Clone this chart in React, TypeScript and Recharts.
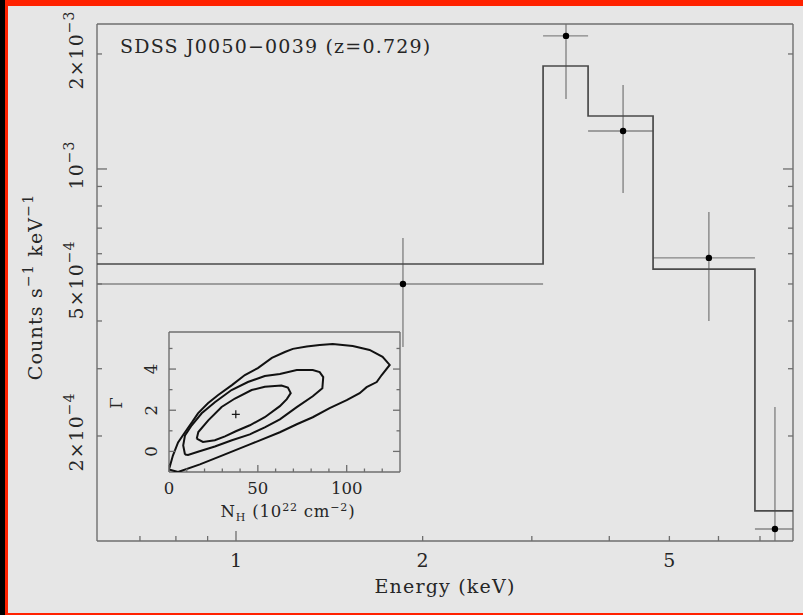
import React from 'react';
import { ComposedChart, ScatterChart, Scatter, XAxis, YAxis, ErrorBar } from 'recharts';

// spectral bins (keV) and the folded model in each bin
const binEdges = [0.5, 3.128, 3.697, 4.706, 6.87, 8.0];
const modelRate = [5.64e-4, 1.86e-3, 1.376e-3, 5.47e-4, 1.273e-4];

// measured rates, counts s^-1 keV^-1
const energy = [1.859, 3.406, 4.21, 5.79, 7.4];
const rate = [5.0e-4, 2.23e-3, 1.257e-3, 5.85e-4, 1.142e-4];
const rateLow = [3.42e-4, 1.525e-3, 8.65e-4, 4.0e-4, 9.0e-5];
const rateHigh = [6.6e-4, 2.9e-3, 1.66e-3, 7.72e-4, 2.38e-4];

const xDomain = [0.5968, 7.913];
const yDomain = [1.062e-4, 2.396e-3];
const xTicks = [0.7, 0.8, 0.9, 1, 2, 3, 4, 5, 6, 7];
const xMajor = [1];
const xLabeled = [1, 2, 5];
const yTicks = [2e-4, 3e-4, 4e-4, 5e-4, 6e-4, 7e-4, 8e-4, 9e-4, 1e-3, 2e-3];
const yMajor = [1e-3];
const yLabels = [
  { v: 2e-4, m: '2×10', e: '−4' },
  { v: 5e-4, m: '5×10', e: '−4' },
  { v: 1e-3, m: '10', e: '−3' },
  { v: 2e-3, m: '2×10', e: '−3' },
];

// N_H - Gamma confidence contours
const contourOuter = [
  [0, -0.88], [2.2, -0.2], [5.1, 0.44], [9.0, 0.93], [12.9, 1.41], [16.3, 1.85], [21.9, 2.34],
  [27.5, 2.73], [35.4, 3.22], [42.7, 3.71], [50.0, 4.05], [57.9, 4.54], [65.2, 4.83], [69.7, 4.98],
  [77.5, 5.1], [84.8, 5.17], [92.1, 5.22], [103.4, 5.12], [112.9, 4.93], [120.2, 4.59], [124.2, 4.2],
  [119.7, 3.71], [116.9, 3.37], [111.2, 3.12], [107.3, 2.83], [100.0, 2.49], [90.4, 2.1], [80.9, 1.66],
  [71.9, 1.32], [62.4, 0.93], [45.5, 0.34], [28.7, -0.24], [17.4, -0.63], [5.1, -1.0], [0, -0.88],
];
const contourMid = [
  [9.0, -0.15], [8.0, 0.29], [9.0, 0.78], [12.8, 1.27], [18.4, 1.85], [25.8, 2.39], [35.2, 2.98],
  [44.4, 3.37], [53.9, 3.66], [62.4, 3.76], [71.9, 3.95], [80.9, 3.95], [84.8, 3.85], [86.8, 3.61],
  [86.3, 3.07], [80.9, 2.68], [71.9, 2.15], [62.4, 1.56], [53.9, 1.17], [45.5, 0.83], [35.4, 0.54],
  [25.8, 0.24], [16.3, -0.02], [10.7, -0.17], [9.0, -0.15],
];
const contourInner = [
  [15.6, 0.62], [16.5, 0.94], [22.1, 1.51], [29.6, 2.16], [37.1, 2.57], [46.5, 2.98], [53.9, 3.14],
  [63.3, 3.2], [66.9, 3.1], [68.5, 2.83], [66.3, 2.54], [62.4, 2.2], [53.9, 1.66], [45.5, 1.27],
  [37.6, 0.98], [31.5, 0.73], [25.8, 0.54], [19.1, 0.46], [15.6, 0.62],
];
const bestFit = [37.6, 1.8];

const nhDomain = [0, 130];
const gammaDomain = [-1, 5.8];
const nhTicks = [0, 10, 20, 30, 40, 50, 60, 70, 80, 90, 100, 110, 120];
const nhMajor = [0, 50, 100];
const gammaTicks = [0, 1, 2, 3, 4, 5];
const gammaMajor = [0, 2, 4];

const FONT = '"DejaVu Serif", serif';
const FRAME = '#6e6e6e';
const BG = '#e6e6e6';
const INK = '#262626';

// error bars are cut at the plot frame, as the axes are
const points = energy.map((e, i) => {
  const lo = Math.max(binEdges[i], xDomain[0]);
  const hi = Math.min(binEdges[i + 1], xDomain[1]);
  const c = rate[i];
  const cLo = Math.max(rateLow[i], yDomain[0]);
  const cHi = Math.min(rateHigh[i], yDomain[1]);
  return { e, c, xErr: [e - lo, hi - e], yErr: [c - cLo, cHi - c] };
});
const modelPath = modelRate.flatMap((c, i) => [
  { e: binEdges[i], c },
  { e: binEdges[i + 1], c },
]);
const toXY = (list: number[][]) => list.map(([nh, g]) => ({ nh, g }));

const near = (list: number[], v: number) =>
  list.some((t) => Math.abs(t - v) <= Math.abs(t || 1) * 1e-6);

// inward tick marks; labels are drawn by the optional callback
function makeTick(
  side: 'bottom' | 'top' | 'left' | 'right',
  major: number[],
  majorLen: number,
  minorLen: number,
  label?: (x: number, y: number, v: number) => React.ReactNode,
) {
  return (props: any) => {
    const { x, y, payload } = props;
    const v = payload.value;
    const len = near(major, v) ? majorLen : minorLen;
    let x2 = x;
    let y2 = y;
    if (side === 'bottom') y2 = y - len;
    if (side === 'top') y2 = y + len;
    if (side === 'left') x2 = x + len;
    if (side === 'right') x2 = x - len;
    return (
      <g>
        <line x1={x} y1={y} x2={x2} y2={y2} stroke={FRAME} strokeWidth={1.3} />
        {label ? label(x, y, v) : null}
      </g>
    );
  };
}

const energyLabel = (x: number, y: number, v: number) =>
  near(xLabeled, v) ? (
    <text x={x} y={y + 26} textAnchor="middle" fontFamily={FONT} fontSize={19} fill={INK}>
      {v}
    </text>
  ) : null;

const rateLabel = (x: number, y: number, v: number) => {
  const lab = yLabels.find((l) => near([l.v], v));
  if (!lab) return null;
  const bx = x - 14;
  const by = y - 4;
  return (
    <text
      x={bx}
      y={by}
      transform={`rotate(-90, ${bx}, ${by})`}
      textAnchor="middle"
      fontFamily={FONT}
      fontSize={19}
      letterSpacing={1}
      fill={INK}
    >
      {lab.m}
      <tspan dy={-9} fontSize={14}>{lab.e}</tspan>
    </text>
  );
};

const nhLabel = (x: number, y: number, v: number) =>
  near(nhMajor, v) ? (
    <text x={x} y={y + 22} textAnchor="middle" fontFamily={FONT} fontSize={16.5} fill={INK}>
      {v}
    </text>
  ) : null;

const gammaLabel = (x: number, y: number, v: number) => {
  if (!near(gammaMajor, v)) return null;
  const bx = x - 12;
  return (
    <text
      x={bx}
      y={y}
      transform={`rotate(-90, ${bx}, ${y})`}
      textAnchor="middle"
      fontFamily={FONT}
      fontSize={16.5}
      fill={INK}
    >
      {v}
    </text>
  );
};

const dot = (p: any) => <circle cx={p.cx} cy={p.cy} r={3.2} fill="#000" />;
const none = () => <g />;
const cross = (p: any) => (
  <g stroke="#111" strokeWidth={1.2}>
    <line x1={p.cx - 4} y1={p.cy} x2={p.cx + 4} y2={p.cy} />
    <line x1={p.cx} y1={p.cy - 4} x2={p.cx} y2={p.cy + 4} />
  </g>
);

export default function App() {
  const axisLine = { stroke: FRAME, strokeWidth: 1.4 };
  return (
    <div style={{ position: 'absolute', left: 0, top: 0, width: 803, height: 615, background: '#000' }}>
      <div
        style={{
          position: 'absolute',
          left: 5,
          top: 0,
          right: 0,
          bottom: 0,
          background: BG,
          borderLeft: '3px solid #ff2200',
          borderTop: '6px solid #ff2200',
          borderBottom: '2px solid #ff2200',
        }}
      />

      <div style={{ position: 'absolute', left: 0, top: 0 }}>
        <ComposedChart width={803} height={615} margin={{ top: 23, right: 9, bottom: 14, left: 37 }}>
          <XAxis
            xAxisId="bottom"
            dataKey="e"
            type="number"
            scale="log"
            domain={xDomain}
            allowDataOverflow
            ticks={xTicks}
            interval={0}
            height={60}
            tickSize={0}
            tickMargin={0}
            tickLine={false}
            axisLine={axisLine}
            tick={makeTick('bottom', xMajor, 10, 5, energyLabel)}
          />
          <XAxis
            xAxisId="top"
            orientation="top"
            type="number"
            scale="log"
            domain={xDomain}
            allowDataOverflow
            ticks={xTicks}
            interval={0}
            height={1}
            tickSize={0}
            tickMargin={0}
            tickLine={false}
            axisLine={axisLine}
            tick={makeTick('top', xMajor, 10, 5)}
          />
          <YAxis
            yAxisId="left"
            dataKey="c"
            type="number"
            scale="log"
            domain={yDomain}
            allowDataOverflow
            ticks={yTicks}
            interval={0}
            width={60}
            tickSize={0}
            tickMargin={0}
            tickLine={false}
            axisLine={axisLine}
            tick={makeTick('left', yMajor, 10, 5, rateLabel)}
          />
          <YAxis
            yAxisId="right"
            orientation="right"
            type="number"
            scale="log"
            domain={yDomain}
            allowDataOverflow
            ticks={yTicks}
            interval={0}
            width={1}
            tickSize={0}
            tickMargin={0}
            tickLine={false}
            axisLine={axisLine}
            tick={makeTick('right', yMajor, 10, 5)}
          />
          <Scatter
            xAxisId="bottom"
            yAxisId="left"
            data={modelPath}
            dataKey="c"
            line={{ stroke: '#4a4a4a', strokeWidth: 1.7 }}
            lineType="joint"
            shape={none}
            isAnimationActive={false}
          />
          <Scatter
            xAxisId="bottom"
            yAxisId="left"
            data={points}
            dataKey="c"
            shape={dot}
            isAnimationActive={false}
          >
            <ErrorBar dataKey="xErr" direction="x" width={0} stroke="#858585" strokeWidth={1.4} />
            <ErrorBar dataKey="yErr" direction="y" width={0} stroke="#858585" strokeWidth={1.4} />
          </Scatter>
        </ComposedChart>
      </div>

      <div style={{ position: 'absolute', left: 100, top: 320 }}>
        <ScatterChart width={310} height={210} margin={{ top: 11, right: 9, bottom: 18, left: 29 }}>
          <XAxis
            dataKey="nh"
            type="number"
            domain={nhDomain}
            allowDataOverflow
            ticks={nhTicks}
            interval={0}
            height={40}
            tickSize={0}
            tickMargin={0}
            tickLine={false}
            axisLine={axisLine}
            tick={makeTick('bottom', nhMajor, 7, 3.5, nhLabel)}
          />
          <XAxis
            xAxisId="top"
            orientation="top"
            type="number"
            domain={nhDomain}
            allowDataOverflow
            ticks={nhTicks}
            interval={0}
            height={1}
            tickSize={0}
            tickMargin={0}
            tickLine={false}
            axisLine={axisLine}
            tick={makeTick('top', nhMajor, 7, 3.5)}
          />
          <YAxis
            dataKey="g"
            type="number"
            domain={gammaDomain}
            allowDataOverflow
            ticks={gammaTicks}
            interval={0}
            width={40}
            tickSize={0}
            tickMargin={0}
            tickLine={false}
            axisLine={axisLine}
            tick={makeTick('left', gammaMajor, 7, 3.5, gammaLabel)}
          />
          <YAxis
            yAxisId="right"
            orientation="right"
            type="number"
            domain={gammaDomain}
            allowDataOverflow
            ticks={gammaTicks}
            interval={0}
            width={1}
            tickSize={0}
            tickMargin={0}
            tickLine={false}
            axisLine={axisLine}
            tick={makeTick('right', gammaMajor, 7, 3.5)}
          />
          {[contourOuter, contourMid, contourInner].map((c, i) => (
            <Scatter
              key={i}
              data={toXY(c)}
              line={{ stroke: '#111', strokeWidth: 2 }}
              lineType="joint"
              shape={none}
              isAnimationActive={false}
            />
          ))}
          <Scatter data={toXY([bestFit])} shape={cross} isAnimationActive={false} />
        </ScatterChart>
      </div>

      <svg width={803} height={615} style={{ position: 'absolute', left: 0, top: 0, pointerEvents: 'none' }}>
        <g fontFamily={FONT} fill={INK}>
          <text x={120} y={53} fontSize={19} letterSpacing={1.2}>
            SDSS J0050−0039 (z=0.729)
          </text>
          <text x={445} y={593} fontSize={19} letterSpacing={1.2} textAnchor="middle">
            Energy (keV)
          </text>
          <text
            x={42}
            y={287}
            transform="rotate(-90, 42, 287)"
            fontSize={19}
            letterSpacing={1.2}
            textAnchor="middle"
          >
            Counts s<tspan dy={-9} fontSize={14}>−1</tspan>
            <tspan dy={9}> keV</tspan>
            <tspan dy={-9} fontSize={14}>−1</tspan>
          </text>
          <text x={288} y={517} fontSize={16.5} letterSpacing={0.8} textAnchor="middle">
            N<tspan dy={4} fontSize={11}>H</tspan>
            <tspan dy={-4}> (10</tspan>
            <tspan dy={-6} fontSize={11}>22</tspan>
            <tspan dy={6}> cm</tspan>
            <tspan dy={-6} fontSize={11}>−2</tspan>
            <tspan dy={6}>)</tspan>
          </text>
          <text x={122} y={403} transform="rotate(-90, 122, 403)" fontSize={16.5} textAnchor="middle">
            Γ
          </text>
        </g>
      </svg>
    </div>
  );
}
